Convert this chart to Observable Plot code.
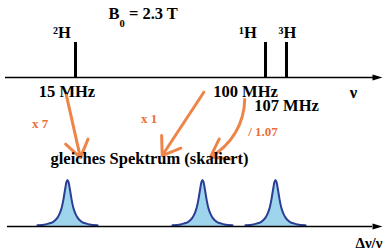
<!DOCTYPE html>
<html>
<head>
<meta charset="utf-8">
<script src="https://cdn.jsdelivr.net/npm/d3@7"></script>
<script src="https://cdn.jsdelivr.net/npm/@observablehq/plot@0.6"></script>
<style>
  html, body { margin: 0; padding: 0; background: #fff; }
  #chart { position: relative; width: 383px; height: 252px; overflow: hidden; }
  #chart svg { position: absolute; left: 0; top: 0; background: transparent; }
</style>
</head>
<body>
<div id="chart"></div>
<script>
// ---------- data ----------
const isotopes = ["²H", "¹H", "³H"];
const frequencies = [15, 100, 107];               // MHz at B0 = 2.3 T
const frequencyLabels = ["15 MHz", "100 MHz", "107 MHz"];
const lineIntensity = [1, 1, 1];
const scaleFactors = ["x 7", "x 1", "/ 1.07"];
const fieldLabel = "B0 = 2.3 T";
const resultLabel = "gleiches Spektrum (skaliert)";
const topAxisLabel = "ν";
const bottomAxisLabel = "Δν/ν";
// bottom spectrum (Δν/ν, arbitrary units)
const peakPositions = [12, 39, 53.6];
const profileOffsets = [0, 0.2, 0.4, 0.6, 0.8, 1, 1.2, 1.6, 2, 2.4, 3, 3.6, 4.4, 6];
const profileHeights = [1, 0.96, 0.85, 0.72, 0.59, 0.48, 0.39, 0.27, 0.19, 0.14, 0.09, 0.07, 0.045, 0.025];

// ---------- styling / layout ----------
const serif = "'Liberation Serif', 'Times New Roman', serif";
const boldText = {fontFamily: serif, fontWeight: "bold", fontSize: 16.5};
const orangeText = {fontFamily: serif, fontWeight: "bold", fontSize: 13, fill: "#e8703a"};
const arrowColor = "#ee8548";
const nuMin = -15, nuMax = 135;
const triangle = {draw(ctx, l) { ctx.moveTo(-3, 0); ctx.lineTo(0, -l); ctx.lineTo(3, 0); ctx.closePath(); }};
const isoDx = [-13.5, -17.5, 1];
const freqDx = [-8.5, -20, 0], freqDy = [14.4, 14, 28];
const factorPos = [[-0.2, -1.31], [47.9, -1.17], [98.9, -1.55]];
const arrows = [
  {x1: 11.1, y1: -0.51, x2: 17.2, y2: -2.29, bend: 0},
  {x1: 72.4, y1: -0.42, x2: 53.8, y2: -2.23, bend: 0},
  {x1: 90.7, y1: -0.63, x2: 75.4, y2: -2.27, bend: 30}
];

const topPlot = Plot.plot({
  width: 383, height: 252, margin: 0,
  x: {type: "linear", domain: [nuMin, 15, 100, 107, nuMax], range: [5, 75, 265, 286, 382], axis: null},
  y: {domain: [0, 1], range: [77, 42], axis: null},
  marks: [
    Plot.ruleY([0], {x1: nuMin, x2: nuMax - 2, stroke: "#000", strokeWidth: 1.7}),
    Plot.vector([0], {x: nuMax, y: 0, rotate: 90, length: 10, anchor: "end", shape: triangle, fill: "#000", stroke: "none"}),
    Plot.ruleX(frequencies, {x: d => d, y1: 0, y2: (d, i) => lineIntensity[i], stroke: "#000", strokeWidth: 3}),
    ...isotopes.map((t, i) => Plot.text([t], {x: frequencies[i], y: lineIntensity[i], text: d => d, dx: isoDx[i], dy: -10, ...boldText})),
    ...frequencyLabels.map((t, i) => Plot.text([t], {x: frequencies[i], y: 0, text: d => d, dx: freqDx[i], dy: freqDy[i], ...boldText})),
    Plot.text([topAxisLabel], {x: nuMax, y: 0, text: d => d, dx: -29, dy: 15.4, ...boldText}),
    Plot.text([fieldLabel], {x: frequencies[0], y: lineIntensity[0], text: d => d, dx: 33, dy: -28.6, textAnchor: "start", ...boldText}),
    ...arrows.map(a => Plot.arrow([a], {x1: "x1", y1: "y1", x2: "x2", y2: "y2", bend: a.bend, stroke: arrowColor, strokeWidth: 3, headLength: 10, headAngle: 70})),
    ...scaleFactors.map((t, i) => Plot.text([t], {x: factorPos[i][0], y: factorPos[i][1], text: d => d, ...orangeText})),
    Plot.text([resultLabel], {x: 48.1, y: -2.31, text: d => d, ...boldText})
  ]
});

// bottom spectrum
const peakData = peakPositions.flatMap((c, p) => {
  const pts = [];
  for (let k = profileOffsets.length - 1; k > 0; k--) pts.push({peak: p, x: c - profileOffsets[k], y: profileHeights[k]});
  for (let k = 0; k < profileOffsets.length; k++) pts.push({peak: p, x: c + profileOffsets[k], y: profileHeights[k]});
  return pts;
});

const bottomPlot = Plot.plot({
  width: 383, height: 252, margin: 0,
  x: {domain: [0, 75], range: [7, 382], axis: null},
  y: {domain: [0, 1], range: [226, 179.5], axis: null},
  marks: [
    Plot.areaY(peakData, {x: "x", y: "y", z: "peak", fill: "#9fd5ec", curve: "catmull-rom"}),
    Plot.lineY(peakData, {x: "x", y: "y", z: "peak", stroke: "#2b3f96", strokeWidth: 2, curve: "catmull-rom"}),
    Plot.ruleY([0], {x1: 0, x2: 73, stroke: "#000", strokeWidth: 1.7}),
    Plot.vector([0], {x: 75, y: 0, rotate: 90, length: 10, anchor: "end", shape: triangle, fill: "#000", stroke: "none"}),
    Plot.text([bottomAxisLabel], {x: 75, y: 0, text: d => d, dx: 0, dy: 16.2, textAnchor: "end", ...boldText, fontSize: 15})
  ]
});

const chart = document.getElementById("chart");
chart.append(topPlot, bottomPlot);
bottomPlot.style.pointerEvents = "none";

// subscript for B0
topPlot.querySelectorAll("text").forEach(el => {
  if (el.textContent === fieldLabel) {
    el.innerHTML = 'B<tspan dy="7.7" font-size="10.5">0</tspan><tspan dy="-7.7"> = 2.3 T</tspan>';
  }
});
</script>
</body>
</html>
